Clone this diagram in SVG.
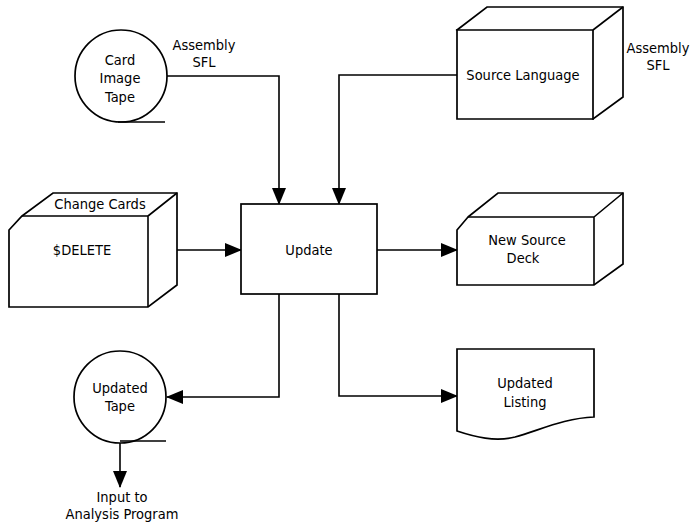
<svg xmlns="http://www.w3.org/2000/svg" width="692" height="529" viewBox="0 0 692 529">
<style>
.s{fill:#fff;stroke:#000;stroke-width:1.7;stroke-linejoin:miter}
.l{fill:none;stroke:#000;stroke-width:1.6}
text{font-family:"DejaVu Sans Condensed","Liberation Sans Narrow","Liberation Sans",sans-serif;font-size:14.5px;fill:#000;text-anchor:middle}
</style>
<defs>
<marker id="a" markerWidth="17" markerHeight="14" refX="16" refY="7" orient="auto" markerUnits="userSpaceOnUse">
<path d="M0,0 L17,7 L0,14 Z" fill="#000"/>
</marker>
</defs>
<rect width="692" height="529" fill="#fff"/>
<g id="connectors">
<path class="l" d="M167,76 H279 V204" marker-end="url(#a)"/>
<path class="l" d="M457,75 H339 V204" marker-end="url(#a)"/>
<path class="l" d="M177,250 H241" marker-end="url(#a)"/>
<path class="l" d="M377,250 H457" marker-end="url(#a)"/>
<path class="l" d="M279,294 V397 H167" marker-end="url(#a)"/>
<path class="l" d="M339,294 V396 H457" marker-end="url(#a)"/>
<path class="l" d="M120,443 V487" marker-end="url(#a)"/>
</g>
<g id="card-image-tape">
<circle class="s" cx="121" cy="76" r="46"/>
<path class="l" d="M118,122 H165"/>
<text x="120" y="65">Card</text>
<text x="120" y="83">Image</text>
<text x="120" y="102">Tape</text>
</g>
<g id="assembly-sfl-1">
<text x="204" y="50">Assembly</text>
<text x="204" y="67">SFL</text>
</g>
<g id="source-language">
<path class="s" d="M457,30 L487,7 H623 V97 L593,119 Z"/>
<path class="s" d="M457,30 H593 V119 H457 Z"/>
<path class="l" d="M593,30 L623,7"/>
<text x="523" y="80">Source Language</text>
</g>
<g id="assembly-sfl-2">
<text x="658" y="53">Assembly</text>
<text x="658" y="70">SFL</text>
</g>
<g id="change-cards">
<path class="s" d="M22,216 L53,193 H177 V285 L148,307 H9 V230 Z"/>
<path class="l" d="M22,216 H148 V307 M148,216 L177,193"/>
<text x="100" y="209">Change Cards</text>
<text x="82" y="255">$DELETE</text>
</g>
<g id="update">
<rect class="s" x="241" y="204" width="136" height="90"/>
<text x="309" y="255">Update</text>
</g>
<g id="new-source-deck">
<path class="s" d="M468,217 L498,193 H623 V264 L594,285 H457 V230 Z"/>
<path class="l" d="M468,217 H594 V285 M594,217 L623,193"/>
<text x="527" y="245">New Source</text>
<text x="523" y="263">Deck</text>
</g>
<g id="updated-tape">
<circle class="s" cx="120" cy="397" r="46"/>
<path class="l" d="M120,441 H166"/>
<text x="120" y="393">Updated</text>
<text x="120" y="411">Tape</text>
</g>
<g id="input-label">
<text x="122" y="502">Input to</text>
<text x="122" y="519">Analysis Program</text>
</g>
<g id="updated-listing">
<path class="s" d="M457,349 H594 V417 C565,418 540,430 515,437 C495,442 475,437 457,431 Z"/>
<text x="525" y="388">Updated</text>
<text x="525" y="407">Listing</text>
</g>
</svg>
